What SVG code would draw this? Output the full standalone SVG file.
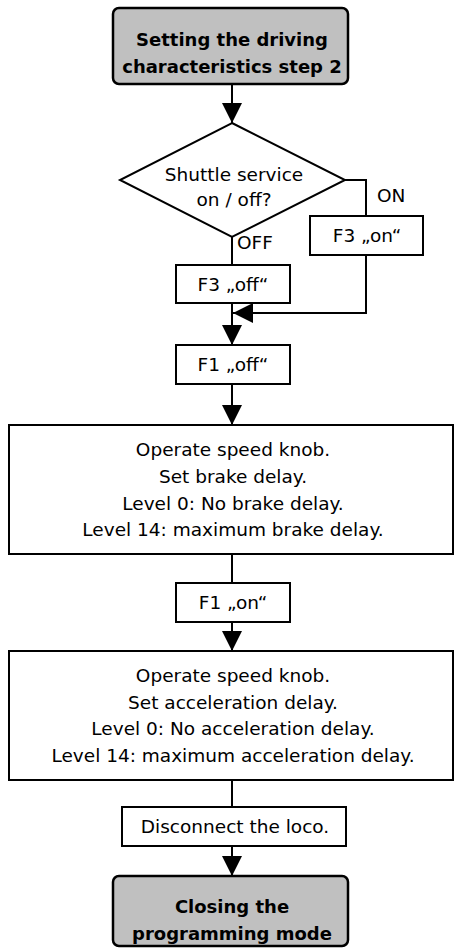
<svg xmlns="http://www.w3.org/2000/svg" width="461" height="952" viewBox="0 0 461 952">
<style>
text{font-family:"DejaVu Sans","Liberation Sans",sans-serif;font-size:18.5px;fill:#000;text-anchor:middle}
.b{font-weight:bold;font-size:18px}
.l{text-anchor:start}
.term{fill:#c0c0c0;stroke:#000;stroke-width:2.5}
.box{fill:#fff;stroke:#000;stroke-width:2}
.ln{fill:none;stroke:#000;stroke-width:2}
</style>
<defs>
<marker id="ah" markerWidth="20" markerHeight="20" refX="20" refY="10" orient="auto" markerUnits="userSpaceOnUse" viewBox="0 0 20 20">
<path d="M0,0 L20,10 L0,20 Z" fill="#000"/>
</marker>
</defs>
<rect width="461" height="952" fill="#fff"/>
<g id="connectors">
<path class="ln" d="M232,84 V123" marker-end="url(#ah)"/>
<path class="ln" d="M345,180 H366 V216"/>
<path class="ln" d="M232,237 V265"/>
<path class="ln" d="M366,255 V313 H233" marker-end="url(#ah)"/>
<path class="ln" d="M232,303 V345" marker-end="url(#ah)"/>
<path class="ln" d="M232,384 V425" marker-end="url(#ah)"/>
<path class="ln" d="M232,554 V583"/>
<path class="ln" d="M232,622 V651" marker-end="url(#ah)"/>
<path class="ln" d="M232,780 V807"/>
<path class="ln" d="M232,846 V876" marker-end="url(#ah)"/>
</g>
<g id="start">
<rect class="term" x="113" y="8" width="235" height="76" rx="6"/>
<text class="b" x="232" y="46">Setting the driving</text>
<text class="b" x="232" y="73">characteristics step 2</text>
</g>
<g id="decision">
<polygon class="box" points="232,123 345,180 232,237 120,180"/>
<text x="234" y="181">Shuttle service</text>
<text x="234" y="206">on / off?</text>
<text class="l" x="377" y="202">ON</text>
<text class="l" x="237" y="249">OFF</text>
</g>
<g id="f3on">
<rect class="box" x="310" y="216" width="113" height="39"/>
<text x="367" y="242">F3 „on“</text>
</g>
<g id="f3off">
<rect class="box" x="176" y="265" width="114" height="38"/>
<text x="233" y="291">F3 „off“</text>
</g>
<g id="f1off">
<rect class="box" x="176" y="345" width="114" height="39"/>
<text x="233" y="371">F1 „off“</text>
</g>
<g id="brake">
<rect class="box" x="9" y="425" width="444" height="129"/>
<text x="233" y="456">Operate speed knob.</text>
<text x="233" y="483">Set brake delay.</text>
<text x="233" y="510">Level 0: No brake delay.</text>
<text x="233" y="536">Level 14: maximum brake delay.</text>
</g>
<g id="f1on">
<rect class="box" x="176" y="583" width="114" height="39"/>
<text x="233" y="609">F1 „on“</text>
</g>
<g id="accel">
<rect class="box" x="9" y="651" width="444" height="129"/>
<text x="233" y="682">Operate speed knob.</text>
<text x="233" y="709">Set acceleration delay.</text>
<text x="233" y="735">Level 0: No acceleration delay.</text>
<text x="233" y="762">Level 14: maximum acceleration delay.</text>
</g>
<g id="disconnect">
<rect class="box" x="122" y="807" width="224" height="39"/>
<text x="235" y="833">Disconnect the loco.</text>
</g>
<g id="end">
<rect class="term" x="113" y="876" width="235" height="70" rx="6"/>
<text class="b" x="232" y="913">Closing the</text>
<text class="b" x="232" y="940">programming mode</text>
</g>
</svg>
